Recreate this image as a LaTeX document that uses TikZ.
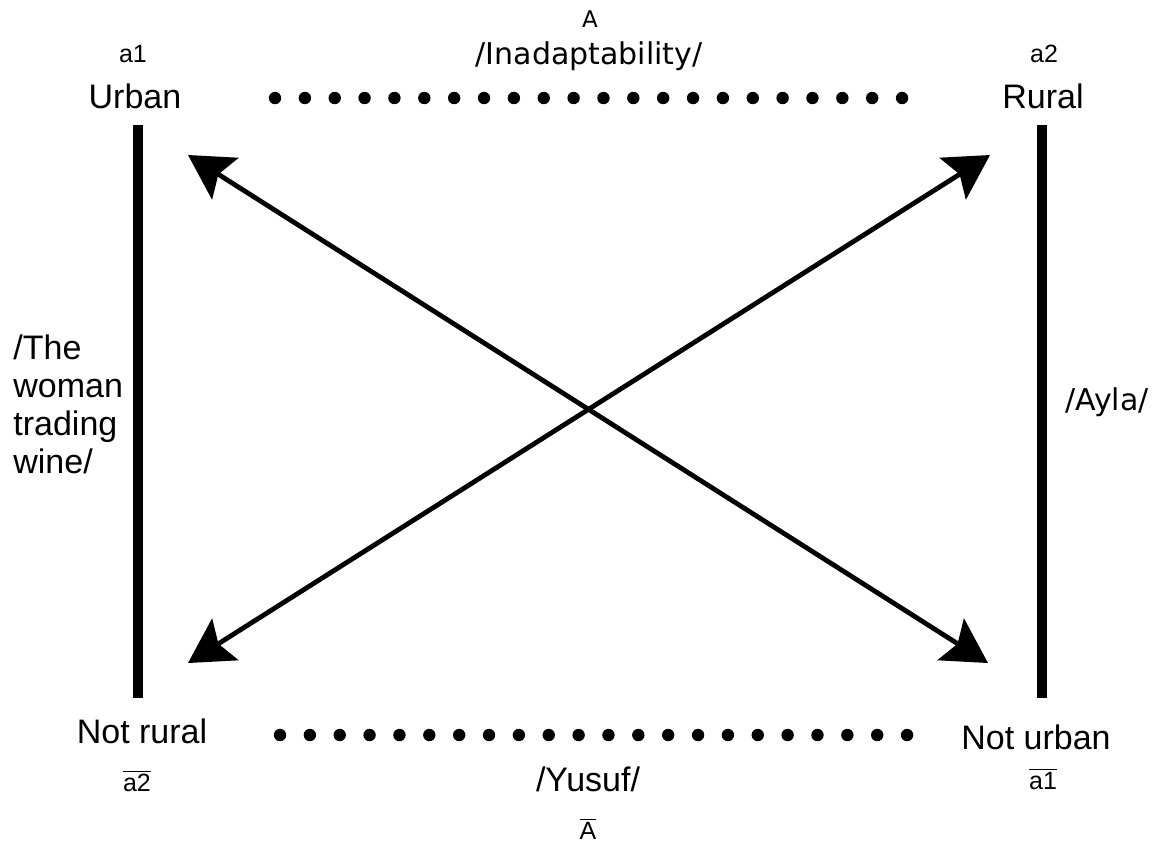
\documentclass[tikz,border=0pt]{standalone}
\usepackage{fontspec}
\setmainfont{Liberation Sans}
\newfontfamily\semfont{DejaVu Sans}
\usetikzlibrary{arrows.meta}

\begin{document}
\begin{tikzpicture}[x=0.5pt,y=-0.5pt,
  termtxt/.style={font=\fontsize{17}{19}\selectfont, inner sep=0pt},
  labeltxt/.style={font=\fontsize{12.5}{14}\selectfont, inner sep=0pt},
  semtxt/.style={font=\semfont\fontsize{15}{17}\selectfont, inner sep=0pt},
  semlabel/.style={font=\semfont\fontsize{11.5}{13}\selectfont, inner sep=0pt},
  axisbar/.style={line width=5pt},
  relation/.style={line width=2.4pt,
    {Stealth[length=22pt,width=24.5pt,inset=4pt]}-{Stealth[length=22pt,width=24.5pt,inset=4pt]}},
  dotmark/.style={fill=black, draw=none}]
  \useasboundingbox (0,0) rectangle (1165,843);

  % corner terms
  \node[labeltxt] (a1) at (133,54) {a1};
  \node[termtxt] (urban) at (135,96) {Urban};
  \node[labeltxt] (a2) at (1044,54) {a2};
  \node[termtxt] (rural) at (1043,96) {Rural};
  \node[termtxt] (notrural) at (142,731) {Not rural};
  \node[labeltxt] (a2bar) at (137,781) {$\overline{\mbox{a2}}$};
  \node[termtxt] (noturban) at (1036,737) {Not urban};
  \node[labeltxt] (a1bar) at (1043,779) {$\overline{\mbox{a1}}$};

  % axis labels
  \node[semlabel] (Atop) at (590,19) {A};
  \node[semtxt] (inadapt) at (589,56) {/Inadaptability/};
  \node[termtxt] (yusuf) at (588,779) {/Yusuf/};
  \node[labeltxt] (Abar) at (588,829) {$\overline{\mbox{A}}$};
  \node[termtxt, align=left, anchor=west] (woman) at (13,404) {/The\\woman\\trading\\wine/};
  \node[semtxt] (ayla) at (1107,402) {/Ayla/};

  % implication bars
  \coordinate (lbartop) at (138,125);
  \coordinate (lbarbot) at (138,698);
  \coordinate (rbartop) at (1042,125);
  \coordinate (rbarbot) at (1042,698);
  \draw[axisbar] (lbartop) -- (lbarbot);
  \draw[axisbar] (rbartop) -- (rbarbot);

  % contradiction diagonals
  \coordinate (ul) at (188,155);
  \coordinate (ur) at (990,155);
  \coordinate (ll) at (188,663);
  \coordinate (lr) at (988,663);
  \draw[relation] (ul) -- (lr);
  \draw[relation] (ll) -- (ur);

  % contrariety rows of dots
  \foreach \i in {0,...,21} {
    \fill[dotmark] ({275+\i*29.86},98) circle (3.1pt);
    \fill[dotmark] ({280+\i*29.86},735) circle (3.1pt);
  }
\end{tikzpicture}
\end{document}
